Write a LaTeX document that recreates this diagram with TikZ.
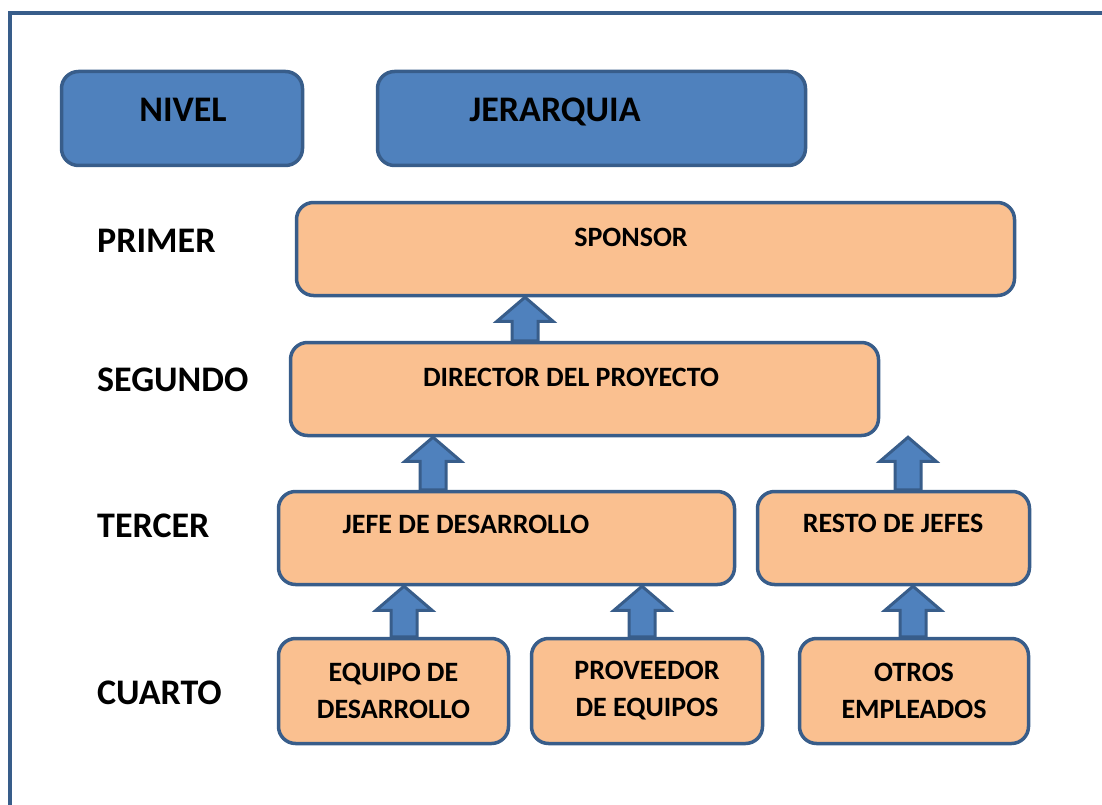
\documentclass[tikz,border=0pt]{standalone}
\usepackage{fontspec}
\setmainfont{Carlito}
\usepackage{tikz}
\usetikzlibrary{positioning}
\definecolor{borde}{RGB}{56,93,138}
\definecolor{azul}{RGB}{79,129,189}
\definecolor{naranja}{RGB}{250,192,144}
\tikzset{
  caja/.style 2 args={draw=borde, line width=3.5pt, rounded corners=17pt, fill=naranja,
    minimum width=#1pt, minimum height=#2pt, inner sep=0pt},
  cabecera/.style 2 args={caja={#1}{#2}, fill=azul},
  texto/.style={font=\fontsize{28}{37}\selectfont\bfseries, inner sep=0pt},
  nivel/.style={font=\fontsize{36}{40}\selectfont\bfseries, inner sep=0pt, anchor=base west},
  flecha/.style={draw=borde, fill=azul, line width=3pt},
  marco/.style={draw=borde, line width=4pt}
}
% flecha de bloque: x, caja de abajo, caja de arriba
\newcommand{\flecha}[3]{%
  \draw[flecha] (#1,0 |- #3.south) -- ++(-28,24) coordinate (hb) -- ++(15,0)
    -- (#1-13,0 |- #2.north) -- ++(26,0) -- (#1+13,0 |- hb) -- ++(15,0) -- cycle;}

\begin{document}
\begin{tikzpicture}[x=1pt, y=-1pt]
	\useasboundingbox (0,0) rectangle (1102,805);
	% marco
	\draw[marco] (9.5,805) |- (1102,13);
	% cabeceras
	\node[cabecera={241}{94}] (nivel) at (182,118.5) {};
	\node[cabecera={428}{94}] (jerarquia) at (591.5,118.5) {};
	\node[texto, font=\fontsize{36}{40}\selectfont\bfseries, anchor=base] (t-nivel) at (183,122) {NIVEL};
	\node[texto, font=\fontsize{36}{40}\selectfont\bfseries, anchor=base] (t-jerarquia) at (555,122) {JERARQUIA};
	% niveles
	\node[nivel] (primer) at (97,252) {PRIMER};
	\node[nivel] (segundo) at (97,391) {SEGUNDO};
	\node[nivel] (tercer) at (97,537) {TERCER};
	\node[nivel] (cuarto) at (97,704) {CUARTO};
	% cajas
	\node[caja={718}{93}] (sponsor) at (655.5,249) {};
	\node[caja={588}{93}] (director) at (584.5,389) {};
	\node[caja={456}{93}] (jefe) at (506.5,538) {};
	\node[caja={272}{93}] (resto) at (893.5,538) {};
	\node[caja={230}{105}, texto, align=center] (equipo) at (393.5,691) {EQUIPO DE\\DESARROLLO};
	\node[caja={231}{105}, texto, align=center] (proveedor) at (647,691) {PROVEEDOR\\DE EQUIPOS};
	\node[caja={229}{105}, texto, align=center] (otros) at (914,691) {OTROS\\EMPLEADOS};
	\node[texto, anchor=base] (t-sponsor) at (631,246) {SPONSOR};
	\node[texto, anchor=base] (t-director) at (571,386) {DIRECTOR DEL PROYECTO};
	\node[texto, anchor=base] (t-jefe) at (466,533) {JEFE DE DESARROLLO};
	\node[texto, anchor=base] (t-resto) at (893,532) {RESTO DE JEFES};
	% flechas
	\flecha{525}{director}{sponsor}
	\flecha{433}{jefe}{director}
	\flecha{908}{resto}{director}
	\flecha{404}{equipo}{jefe}
	\flecha{642}{proveedor}{jefe}
	\flecha{913}{otros}{resto}
\end{tikzpicture}
\end{document}
